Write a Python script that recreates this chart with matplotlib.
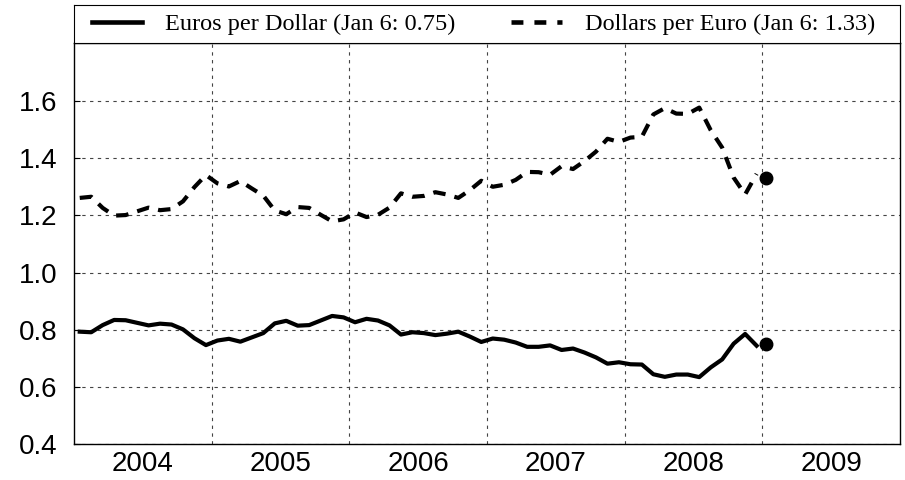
import numpy as np
import matplotlib
matplotlib.use('Agg')
import matplotlib.pyplot as plt
from matplotlib.lines import Line2D

# monthly averages, Jan 2004 .. Dec 2008
dollars_per_euro = [
    1.261, 1.265, 1.226, 1.199, 1.201, 1.214, 1.227, 1.218, 1.222, 1.249, 1.299, 1.341,
    1.312, 1.301, 1.320, 1.294, 1.269, 1.217, 1.204, 1.229, 1.226, 1.202, 1.179, 1.186,
    1.210, 1.194, 1.202, 1.227, 1.277, 1.265, 1.268, 1.281, 1.273, 1.261, 1.288, 1.321,
    1.300, 1.307, 1.324, 1.352, 1.351, 1.342, 1.372, 1.362, 1.390, 1.423, 1.468, 1.457,
    1.472, 1.475, 1.553, 1.575, 1.556, 1.555, 1.577, 1.498, 1.437, 1.332, 1.273, 1.345,
]
euros_per_dollar = [
    0.793, 0.791, 0.816, 0.834, 0.833, 0.824, 0.815, 0.821, 0.818, 0.801, 0.770, 0.746,
    0.762, 0.768, 0.758, 0.773, 0.788, 0.822, 0.831, 0.814, 0.816, 0.832, 0.848, 0.843,
    0.826, 0.838, 0.832, 0.815, 0.783, 0.791, 0.788, 0.781, 0.786, 0.793, 0.776, 0.757,
    0.769, 0.765, 0.755, 0.740, 0.740, 0.745, 0.729, 0.734, 0.720, 0.703, 0.681, 0.686,
    0.679, 0.678, 0.644, 0.635, 0.643, 0.643, 0.634, 0.668, 0.696, 0.751, 0.785, 0.744,
]
latest_x = 2009.03          # Jan 6, 2009
latest_epd = 0.75
latest_dpe = 1.33
years = [2004, 2005, 2006, 2007, 2008, 2009]
yticks = [0.4, 0.6, 0.8, 1.0, 1.2, 1.4, 1.6]

x = years[0] + (np.arange(len(dollars_per_euro)) + 0.5) / 12.0

fig = plt.figure(figsize=(9.05, 4.8), dpi=100)
ax = fig.add_axes([74 / 905, 1 - 444 / 480, 826 / 905, 401 / 480])

ax.plot(x, euros_per_dollar, color='black', lw=3)
ax.plot(x, dollars_per_euro, color='black', lw=3, dashes=(3, 2.2))
ax.plot([latest_x], [latest_epd], 'o', color='black', ms=9)
ax.plot([latest_x], [latest_dpe], 'o', color='black', ms=9)

ax.set_xlim(years[0], years[-1] + 1)
ax.set_ylim(0.4, 1.803)
ax.set_xticks(years[1:])
ax.set_xticklabels([])
ax.set_xticks([y + 0.5 for y in years], minor=True)
ax.set_xticklabels([str(y) for y in years], minor=True)
ax.set_yticks(yticks)
ax.set_yticklabels(['%.1f' % v for v in yticks])
ax.tick_params(which='both', length=0, labelsize=20)
ax.tick_params(axis='x', which='minor', pad=5)
ax.tick_params(axis='y', direction='in', length=4, width=0.8, pad=12)
for lab in ax.get_xticklabels(minor=True) + ax.get_yticklabels():
    lab.set_fontfamily('Liberation Sans')
ax.grid(True, which='major', color='#444444', lw=0.8, dashes=(3, 4))
for s in ax.spines.values():
    s.set_linewidth(1.0)

# legend box above the plot
lax = fig.add_axes([74 / 905, 1 - 43 / 480, 826 / 905, 38 / 480])
lax.set_xticks([])
lax.set_yticks([])
handles = [Line2D([], [], color='black', lw=3.3),
           Line2D([], [], color='black', lw=3.3, dashes=(2.6, 2.4))]
labels = ['Euros per Dollar (Jan 6: 0.75)', 'Dollars per Euro (Jan 6: 1.33)']
lax.legend(handles, labels, loc='center left', bbox_to_anchor=(18 / 826, 0.5),
           ncol=2, frameon=False, borderpad=0, borderaxespad=0,
           prop={'family': 'Liberation Serif', 'size': 17.5},
           handlelength=2.06, handletextpad=0.95, columnspacing=2.3)

fig.savefig('out.png', dpi=100)
